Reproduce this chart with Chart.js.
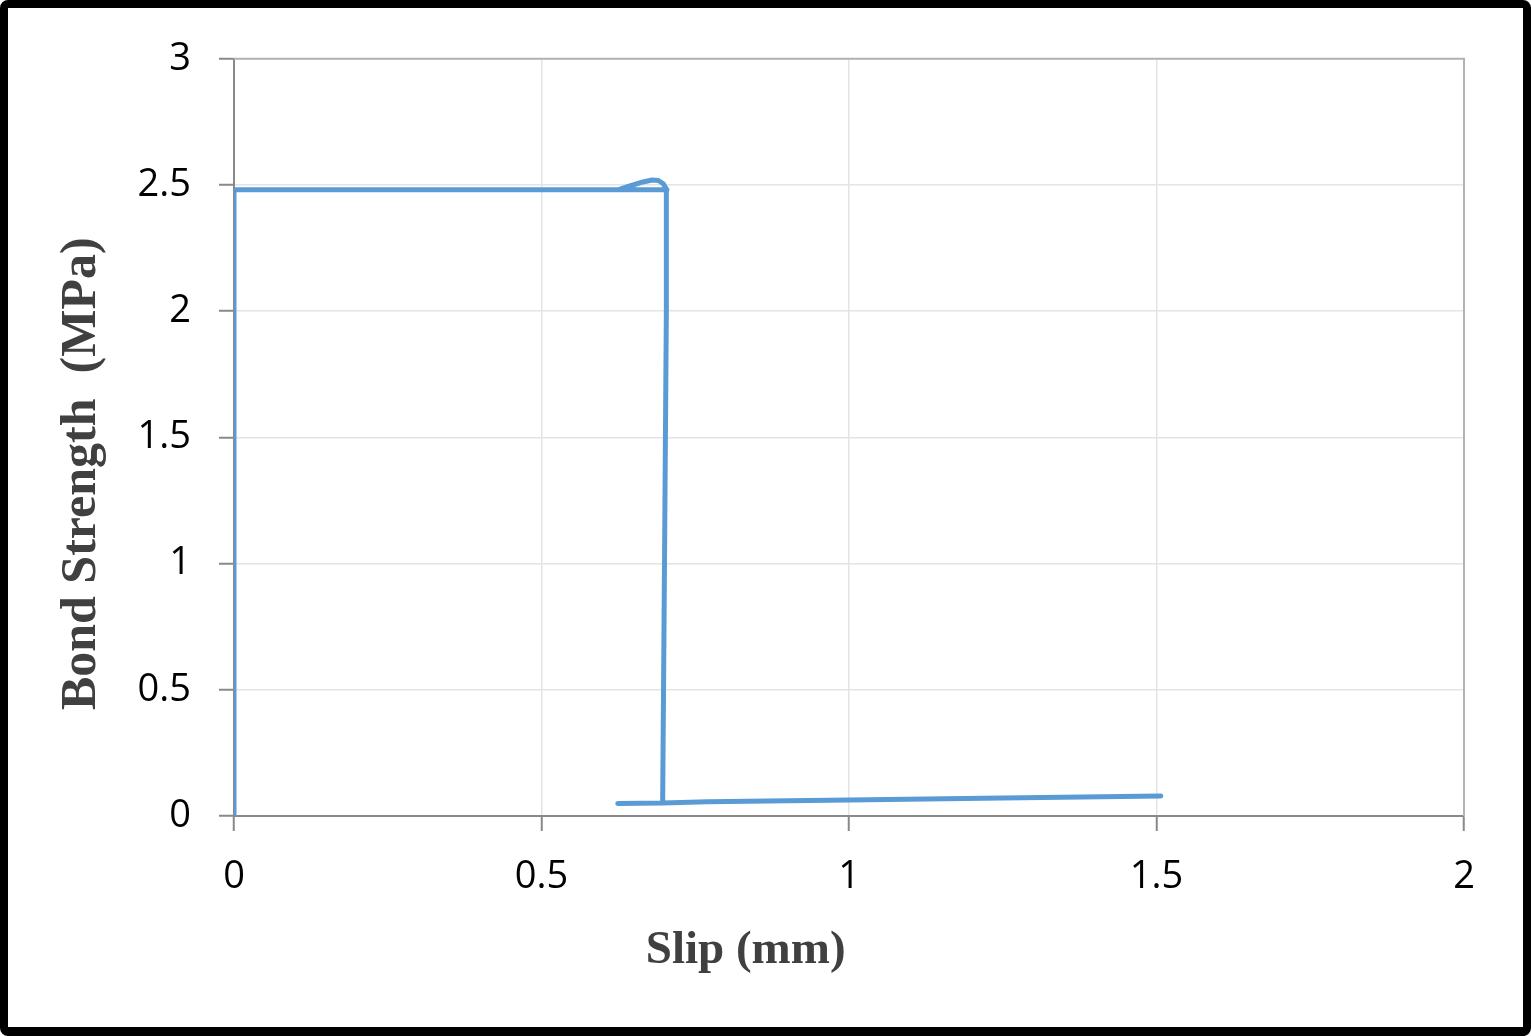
<!DOCTYPE html>
<html>
<head>
<meta charset="utf-8">
<script src="https://cdn.jsdelivr.net/npm/chart.js@4/dist/chart.umd.min.js"></script>
<style>
  html, body { margin: 0; padding: 0; background: #fff; }
  #rahmen {
    position: absolute; left: 0; top: 0;
    width: 1531px; height: 1036px; box-sizing: border-box;
    border: 8px solid #000; border-bottom-width: 9px; border-radius: 8px;
    background: #fff;
  }
  canvas { display: block; }
</style>
</head>
<body>
<div id="rahmen"><canvas id="graf" width="1515" height="1019"></canvas></div>
<script>
// body krivky skluz (mm) / soudrznost (MPa)
const slipMm = [0, 0, 0.704, 0.624, 0.645, 0.665, 0.680, 0.690, 0.698, 0.703,
                0.703, 0.700, 0.697, 0.624, 0.697, 0.77, 1.0, 1.25, 1.507];
const bondMpa = [0, 2.481, 2.481, 2.481, 2.497, 2.512, 2.520, 2.518, 2.505, 2.484,
                 2.0, 1.0, 0.052, 0.050, 0.052, 0.056, 0.063, 0.071, 0.079];

const xTicks = [0, 0.5, 1, 1.5, 2];
const yTicks = [0, 0.5, 1, 1.5, 2, 2.5, 3];
const xTitulek = "Slip (mm)";
const yTitulek = "Bond Strength  (MPa)";

const MODRA = "#5b9bd5";
const OSA = "#898989";
const MRIZKA = "#e4e4e4";
const TITULEK = "#404040";

const body = slipMm.map((x, i) => ({ x, y: bondMpa[i] }));

// horni a prava hrana plochy grafu + nazvy os (jako ve Wordu, mimo stred)
const ramecek = {
  id: "ramecek",
  beforeDatasetsDraw(chart) {
    const { ctx, chartArea: a } = chart;
    ctx.save();
    ctx.strokeStyle = "#b2b2b2";
    ctx.lineWidth = 2;
    ctx.beginPath();
    ctx.moveTo(a.left, a.top);
    ctx.lineTo(a.right, a.top);
    ctx.lineTo(a.right, a.bottom);
    ctx.stroke();
    ctx.restore();
  },
  afterDraw(chart) {
    const { ctx, chartArea: a } = chart;
    ctx.save();
    ctx.fillStyle = TITULEK;
    ctx.textAlign = "center";
    ctx.textBaseline = "middle";
    ctx.font = "bold 47px 'Liberation Serif'";
    ctx.fillText(xTitulek, a.left + a.width * 0.416, a.bottom + 135);
    ctx.translate(a.left - 152, a.top + a.height * 0.548);
    ctx.rotate(-Math.PI / 2);
    ctx.font = "bold 50px 'Liberation Serif'";
    ctx.fillText(yTitulek, 0, 0);
    ctx.restore();
  },
};

const fmt = v => String(v);

new Chart(document.getElementById("graf"), {
  type: "scatter",
  data: {
    datasets: [{
      data: body, showLine: true, borderColor: MODRA, backgroundColor: MODRA,
      borderWidth: 5, pointRadius: 0, tension: 0,
      borderCapStyle: "round", borderJoinStyle: "round",
    }],
  },
  options: {
    responsive: false, animation: false, devicePixelRatio: 1,
    layout: { padding: { left: 0, top: 47, right: 59, bottom: 0 } },
    plugins: { legend: { display: false }, tooltip: { enabled: false } },
    scales: {
      x: {
        type: "linear", min: xTicks[0], max: xTicks[xTicks.length - 1],
        afterFit: s => { s.height = 211; },
        afterBuildTicks: s => { s.ticks = xTicks.map(value => ({ value })); },
        ticks: { callback: fmt, color: "#000", padding: 23,
          font: { family: "'Open Sans'", size: 38 } },
        grid: { color: MRIZKA, lineWidth: 1.5, tickColor: OSA, tickLength: 15, tickWidth: 2 },
        border: { color: OSA, width: 2 },
      },
      y: {
        type: "linear", min: yTicks[0], max: yTicks[yTicks.length - 1],
        afterFit: s => { s.width = 226; },
        afterBuildTicks: s => { s.ticks = yTicks.map(value => ({ value })); },
        ticks: { callback: fmt, color: "#000", padding: 28,
          font: { family: "'Open Sans'", size: 38 } },
        grid: { color: MRIZKA, lineWidth: 1.5, tickColor: OSA, tickLength: 15, tickWidth: 2 },
        border: { color: OSA, width: 2 },
      },
    },
  },
  plugins: [ramecek],
});
</script>
</body>
</html>
